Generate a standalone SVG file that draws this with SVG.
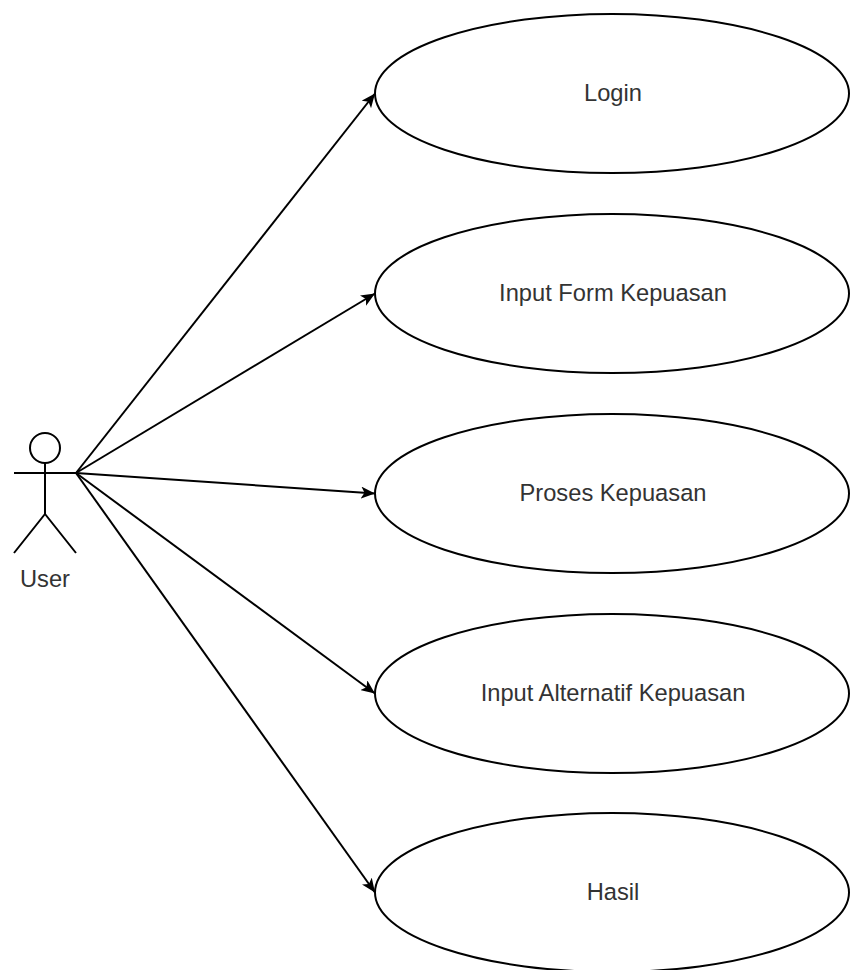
<svg xmlns="http://www.w3.org/2000/svg" width="850" height="970" viewBox="0 0 850 970">
<style>
.uc{fill:#fff;stroke:#000;stroke-width:2}
.lbl{font-family:"Liberation Sans",Arial,sans-serif;font-size:23.7px;fill:#333;text-anchor:middle}
.act{fill:none;stroke:#000;stroke-width:2}
.edge{fill:none;stroke:#000;stroke-width:2}
</style>
<defs>
<marker id="arr" markerUnits="userSpaceOnUse" markerWidth="16" markerHeight="12" refX="14" refY="6" orient="auto">
<path d="M0,0 L14,6 L0,12 L3.5,6 Z" fill="#000"/>
</marker>
</defs>
<rect width="850" height="970" fill="#fff"/>
<g id="connectors">
<line class="edge" x1="76" y1="473" x2="375" y2="93.5" marker-end="url(#arr)"/>
<line class="edge" x1="76" y1="473" x2="375" y2="293.5" marker-end="url(#arr)"/>
<line class="edge" x1="76" y1="473" x2="375" y2="493.5" marker-end="url(#arr)"/>
<line class="edge" x1="76" y1="473" x2="375" y2="693.5" marker-end="url(#arr)"/>
<line class="edge" x1="76" y1="473" x2="375" y2="892.5" marker-end="url(#arr)"/>
</g>
<g id="user">
<circle class="act" cx="45" cy="448" r="15"/>
<line class="act" x1="45" y1="463" x2="45" y2="514"/>
<line class="act" x1="14" y1="473" x2="76" y2="473"/>
<polyline class="act" points="14,553 45,514 76,553"/>
<text class="lbl" x="45" y="587">User</text>
</g>
<g id="login">
<ellipse class="uc" cx="612" cy="93.5" rx="237" ry="79.5"/>
<text class="lbl" x="613" y="101">Login</text>
</g>
<g id="input-form">
<ellipse class="uc" cx="612" cy="293.5" rx="237" ry="79.5"/>
<text class="lbl" x="613" y="301">Input Form Kepuasan</text>
</g>
<g id="proses">
<ellipse class="uc" cx="612" cy="493.5" rx="237" ry="79.5"/>
<text class="lbl" x="613" y="501">Proses Kepuasan</text>
</g>
<g id="input-alternatif">
<ellipse class="uc" cx="612" cy="693.5" rx="237" ry="79.5"/>
<text class="lbl" x="613" y="701">Input Alternatif Kepuasan</text>
</g>
<g id="hasil">
<ellipse class="uc" cx="612" cy="892.5" rx="237" ry="79.5"/>
<text class="lbl" x="613" y="900">Hasil</text>
</g>
</svg>
